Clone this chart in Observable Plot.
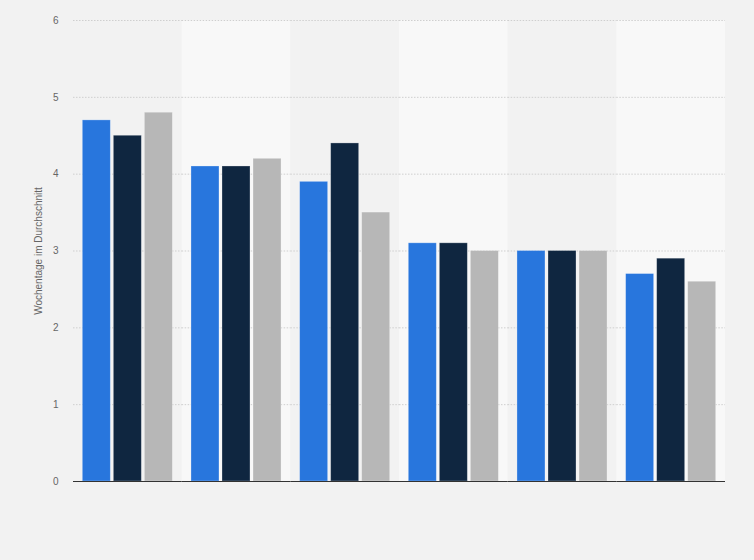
<!DOCTYPE html>
<html><head><meta charset="utf-8">
<script src="https://cdn.jsdelivr.net/npm/d3@7"></script>
<script src="https://cdn.jsdelivr.net/npm/@observablehq/plot@0.6"></script>
<style>
  html, body { margin: 0; padding: 0; background: #f2f2f2; }
</style>
</head><body><div id="chart"></div>
<script>
// Data
const groups = ["Gruppe 1", "Gruppe 2", "Gruppe 3", "Gruppe 4", "Gruppe 5", "Gruppe 6"];
const series = ["Serie A", "Serie B", "Serie C"];
const seriesA = [4.7, 4.1, 3.9, 3.1, 3.0, 2.7];
const seriesB = [4.5, 4.1, 4.4, 3.1, 3.0, 2.9];
const seriesC = [4.8, 4.2, 3.5, 3.0, 3.0, 2.6];
const seriesColors = ["#2876dd", "#0f2640", "#b7b7b7"];
const bandFills = ["#f2f2f2", "#f8f8f8", "#f2f2f2", "#f8f8f8", "#f2f2f2", "#f8f8f8"];
const yTicks = [0, 1, 2, 3, 4, 5, 6];
const yLabel = "Wochentage im Durchschnitt";

const values = [seriesA, seriesB, seriesC];
const data = [];
groups.forEach((g, i) => series.forEach((s, j) => data.push({group: g, series: s, value: values[j][i], color: seriesColors[j]})));
const bands = groups.map((g, i) => ({group: g, fill: bandFills[i]}));

const chart = Plot.plot({
  width: 754,
  height: 560,
  marginLeft: 73,
  marginRight: 29,
  marginTop: 20,
  marginBottom: 79,
  style: {background: "#f2f2f2", fontFamily: "'Liberation Sans', Arial, sans-serif", fontSize: "10px", color: "#666"},
  fx: {domain: groups, padding: 0, round: false, axis: null},
  x: {domain: series, paddingInner: 0.097, paddingOuter: 0.3, round: false, axis: null},
  y: {domain: [0, 6]},
  color: {type: "identity"},
  marks: [
    Plot.rect(bands, {fx: "group", fill: "fill"}),
    Plot.gridY(yTicks.filter(d => d > 0), {stroke: "#cfcfcf", strokeOpacity: 1, strokeDasharray: "1.5,1.5"}),
    Plot.axisY(yTicks, {tickSize: 0, tickPadding: 15, tickFormat: d3.format("d"), fill: "#666", fontSize: 10, label: yLabel, labelAnchor: "center", labelArrow: "none", labelOffset: 39}),
    Plot.barY(data, {fx: "group", x: "series", y: "value", fill: "color", stroke: "#ffffff", strokeOpacity: 0.35, strokeWidth: 0.8}),
    Plot.ruleY([0], {stroke: "#333", strokeWidth: 1.2})
  ]
});
document.getElementById("chart").appendChild(chart);
</script>
</body></html>
